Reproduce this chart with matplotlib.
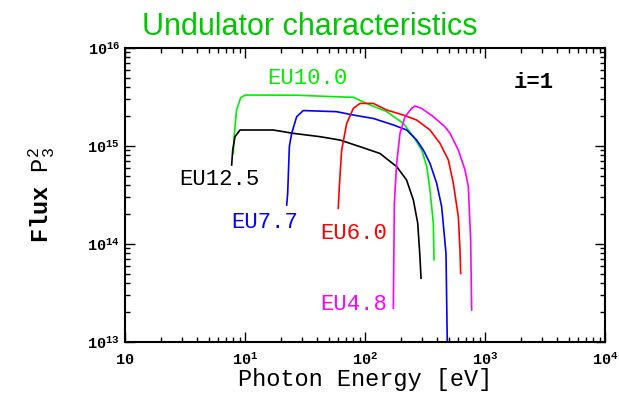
import matplotlib
matplotlib.use("Agg")
import matplotlib.pyplot as plt
from matplotlib.ticker import LogLocator, NullFormatter, FixedLocator, FixedFormatter

# ---- data ----
eu10_E = [8.0, 8.1, 8.5, 9.2, 10.0, 27.0, 50.0, 80.0, 103.0, 152.0, 209.0, 253.0, 297.0, 327.0, 348.0, 371.0, 376.0]
eu10_F = [8.4e14, 1.2e15, 2.33e15, 3.1e15, 3.31e15, 3.3e15, 3.2e15, 3.14e15, 2.72e15, 2.24e15, 1.70e15, 1.245e15, 9.1e14, 6.15e14, 3.56e14, 1.63e14, 6.9e13]

eu125_E = [7.74, 7.9, 8.25, 9.08, 17.2, 25.3, 42.2, 61.9, 90.9, 133.0, 184.0, 222.0, 253.0, 275.0, 287.0, 293.0]
eu125_F = [6.4e14, 9.1e14, 1.245e15, 1.456e15, 1.456e15, 1.346e15, 1.245e15, 1.15e15, 9.84e14, 8.4e14, 6.15e14, 4.5e14, 2.81e14, 1.63e14, 7.4e13, 4.47e13]

eu77_E = [22.25, 22.68, 23.42, 24.48, 26.95, 30.6, 58.1, 79.9, 117.3, 172.3, 222.5, 269.5, 306.3, 348.0, 395.6, 435.5, 473.2, 488.6]
eu77_F = [2.5e14, 3.29e14, 9.84e14, 1.346e15, 1.99e15, 2.30e15, 2.24e15, 2.07e15, 1.91e15, 1.64e15, 1.456e15, 1.15e15, 9.1e14, 6.65e14, 4.16e14, 2.40e14, 8.0e13, 5e12]

eu60_E = [59.9, 61.1, 63.9, 70.4, 79.9, 90.9, 117.3, 151.6, 208.6, 269.5, 348.0, 421.7, 494.9, 544.6, 599.5, 619.0, 627.0]
eu60_F = [2.31e14, 3.85e14, 9.1e14, 1.70e15, 2.42e15, 2.72e15, 2.72e15, 2.33e15, 2.07e15, 1.84e15, 1.456e15, 1.064e15, 7.2e14, 4.16e14, 1.9e14, 8.7e13, 5.0e13]

eu48_E = [172.3, 175.6, 183.6, 195.7, 215.4, 244.9, 261.0, 296.6, 371.0, 464.2, 510.9, 599.5, 681.3, 726.1, 759.5, 774.3]
eu48_F = [2.21e13, 2.6e14, 6.65e14, 1.346e15, 1.99e15, 2.42e15, 2.56e15, 2.42e15, 1.99e15, 1.57e15, 1.346e15, 9.1e14, 5.69e14, 3.85e14, 1.1e14, 2.12e13]

x_ticks = [1, 10, 100, 1000, 10000]
x_ticklabels = [r'$\mathbf{10}$', r'$\mathbf{10^1}$', r'$\mathbf{10^2}$', r'$\mathbf{10^3}$', r'$\mathbf{10^4}$']
y_ticks = [1e13, 1e14, 1e15, 1e16]
y_ticklabels = [r'$\mathbf{10^{13}}$', r'$\mathbf{10^{14}}$', r'$\mathbf{10^{15}}$', r'$\mathbf{10^{16}}$']

plt.rcParams['mathtext.fontset'] = 'custom'
plt.rcParams['mathtext.rm'] = 'Liberation Mono'
plt.rcParams['mathtext.bf'] = 'Liberation Mono:bold'
plt.rcParams['mathtext.it'] = 'Liberation Mono'

fig = plt.figure(figsize=(6.19, 3.98), dpi=100)
ax = fig.add_axes([125/619, 1-342/398, 480/619, 294/398])

lw = 1.2
ax.plot(eu10_E, eu10_F, color='#00ee00', lw=lw)
ax.plot(eu125_E, eu125_F, color='black', lw=lw)
ax.plot(eu77_E, eu77_F, color='#0000ff', lw=lw)
ax.plot(eu60_E, eu60_F, color='#ff0000', lw=lw)
ax.plot(eu48_E, eu48_F, color='#ff00ff', lw=lw)

ax.set_xscale('log')
ax.set_yscale('log')
ax.set_xlim(1, 1e4)
ax.set_ylim(1e13, 1e16)

ax.xaxis.set_major_locator(FixedLocator(x_ticks))
ax.xaxis.set_major_formatter(FixedFormatter(x_ticklabels))
ax.yaxis.set_major_locator(FixedLocator(y_ticks))
ax.yaxis.set_major_formatter(FixedFormatter(y_ticklabels))
ax.xaxis.set_minor_locator(LogLocator(base=10, subs=range(2, 10), numticks=20))
ax.yaxis.set_minor_locator(LogLocator(base=10, subs=range(2, 10), numticks=20))
ax.xaxis.set_minor_formatter(NullFormatter())
ax.yaxis.set_minor_formatter(NullFormatter())
ax.tick_params(which='both', direction='in', top=True, right=True, width=1.0, labelsize=11)
ax.tick_params(which='major', length=7)
ax.tick_params(which='minor', length=3.5)
ax.tick_params(axis='x', pad=7)
for s in ax.spines.values():
    s.set_linewidth(1.5)

ax.set_xlabel('Photon Energy [eV]', fontfamily='Liberation Mono', fontsize=17, labelpad=0)
ax.set_ylabel(r'Flux $\mathrm{P}_3^2$', fontfamily='Liberation Mono', fontsize=17, fontweight='bold', labelpad=22)

tfont = dict(fontfamily='Liberation Mono', fontsize=16)
ax.text(33, 4.94e15, 'EU10.0', color='#00ee00', va='center', ha='center', **tfont)
ax.text(6.07, 4.6e14, 'EU12.5', color='black', va='center', ha='center', **tfont)
ax.text(14.5, 1.64e14, 'EU7.7', color='#0000ff', va='center', ha='center', **tfont)
ax.text(80, 1.29e14, 'EU6.0', color='#ff0000', va='center', ha='center', **tfont)
ax.text(80, 2.39e13, 'EU4.8', color='#ff00ff', va='center', ha='center', **tfont)
ax.text(2560, 4.4e15, 'i=1', color='black', va='center', ha='center', fontweight='bold', **tfont)

fig.text(0.5, 1-35/398, 'Undulator characteristics', color='#00c800', fontfamily='Liberation Sans',
         fontsize=22, ha='center', va='baseline')

fig.savefig('out.png', dpi=100)
